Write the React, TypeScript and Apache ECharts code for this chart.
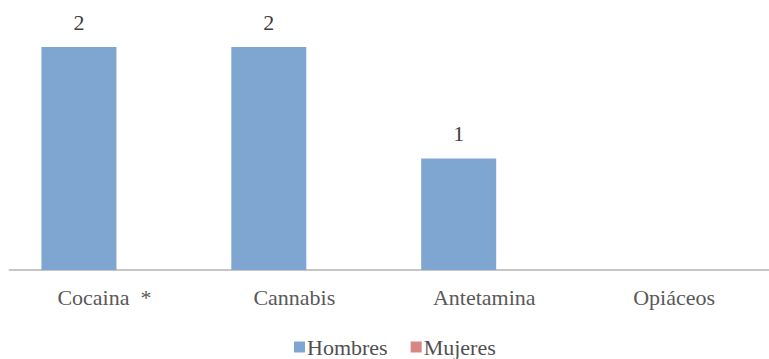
import React, { useEffect, useRef } from "react";
import * as echarts from "echarts";

const categories = ["Cocaina  *", "Cannabis", "Antetamina", "Opiáceos"];
const hombres = [2, 2, 1, 0];
const mujeres = [0, 0, 0, 0];
const seriesNames = ["Hombres", "Mujeres"];

const FONT = "Liberation Serif, Times New Roman, serif";

export default function App() {
  const ref = useRef<HTMLDivElement>(null);
  useEffect(() => {
    document.body.style.margin = "0";
    const chart = echarts.init(ref.current!, null, { renderer: "svg" });
    const labelFmt = (p: any) => (p.value === 0 ? "" : String(p.value));
    chart.setOption({
      animation: false,
      backgroundColor: "#ffffff",
      textStyle: { fontFamily: FONT },
      grid: { left: 9.5, top: 47, width: 764, height: 223, containLabel: false },
      legend: {
        data: seriesNames,
        left: 294,
        top: 336,
        padding: 0,
        itemWidth: 11,
        itemHeight: 11,
        itemGap: 23,
        icon: "rect",
        textStyle: { fontFamily: FONT, fontSize: 22, color: "#505050", padding: [0, 0, 0, -3] },
      },
      xAxis: {
        type: "category",
        data: categories,
        axisTick: { show: false },
        axisLine: { lineStyle: { color: "#c6c6c6", width: 2 } },
        axisLabel: { fontFamily: FONT, fontSize: 22, color: "#595959", margin: 16 },
      },
      yAxis: {
        type: "value",
        min: 0,
        max: 2,
        show: false,
        splitLine: { show: false },
      },
      series: [
        {
          name: seriesNames[0],
          type: "bar",
          data: hombres,
          barWidth: 75,
          barGap: "-32%",
          itemStyle: { color: "#7fa5d1" },
          label: {
            show: true,
            position: "top",
            distance: 14,
            formatter: labelFmt,
            fontFamily: FONT,
            fontSize: 22,
            color: "#404040",
          },
        },
        {
          name: seriesNames[1],
          type: "bar",
          data: mujeres,
          barWidth: 75,
          itemStyle: { color: "#d98585" },
          label: {
            show: true,
            position: "top",
            distance: 14,
            formatter: labelFmt,
            fontFamily: FONT,
            fontSize: 22,
            color: "#404040",
          },
        },
      ],
    });
    return () => chart.dispose();
  }, []);
  return <div ref={ref} style={{ width: 769, height: 359 }} />;
}
